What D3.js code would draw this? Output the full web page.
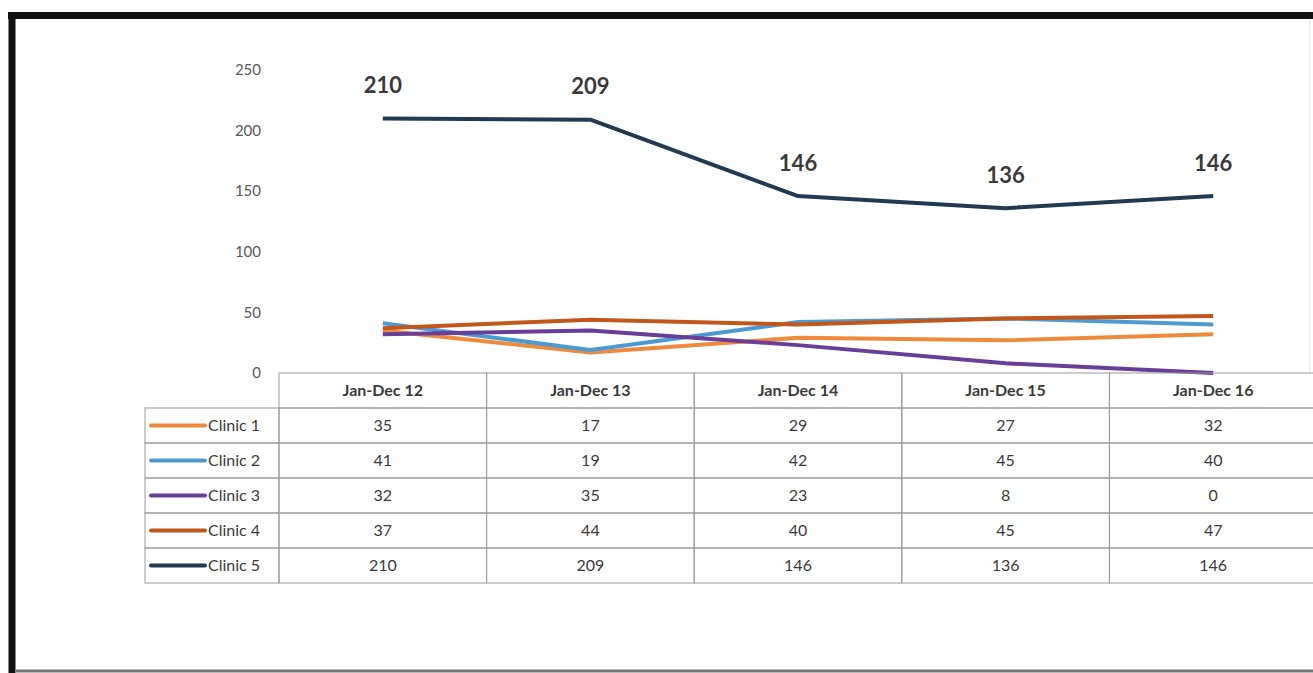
<!DOCTYPE html>
<html lang="en">

<head>
  <meta charset="utf-8">
  <title> Clinic chart </title>
  <script src="https://d3js.org/d3.v7.min.js"></script>
  <style>
    body {
      margin: 0;
      background: #fff;
      font-family: Lato, "Open Sans", sans-serif;
    }
  </style>
</head>

<body>
  <script>
    // chart data
    var categories = ["Jan-Dec 12", "Jan-Dec 13", "Jan-Dec 14", "Jan-Dec 15", "Jan-Dec 16"];
    var clinics = ["Clinic 1", "Clinic 2", "Clinic 3", "Clinic 4", "Clinic 5"];
    var clinic1 = [35, 17, 29, 27, 32];
    var clinic2 = [41, 19, 42, 45, 40];
    var clinic3 = [32, 35, 23, 8, 0];
    var clinic4 = [37, 44, 40, 45, 47];
    var clinic5 = [210, 209, 146, 136, 146];
    var yTicks = [0, 50, 100, 150, 200, 250];
    var colors = ["#ee8a3c", "#4b9bd2", "#6a3d98", "#c1571b", "#1f3a52"];

    var series = [clinic1, clinic2, clinic3, clinic4, clinic5];

    var W = 1313, H = 673;
    var svg = d3.select("body").append("svg")
      .attr("width", W)
      .attr("height", H);

    // frame (scanned border)
    svg.append("rect").attr("x", 0).attr("y", 0).attr("width", W).attr("height", H).attr("fill", "#fff");
    svg.append("line").attr("x1", 8).attr("x2", W).attr("y1", 15.5).attr("y2", 15.5)
      .attr("stroke", "#111").attr("stroke-width", 7);
    svg.append("line").attr("x1", 12).attr("x2", 12).attr("y1", 12).attr("y2", H)
      .attr("stroke", "#111").attr("stroke-width", 7);
    svg.append("line").attr("x1", 16).attr("x2", W).attr("y1", 671).attr("y2", 671)
      .attr("stroke", "#777").attr("stroke-width", 3);
    svg.append("line").attr("x1", 1310).attr("x2", 1310).attr("y1", 20).attr("y2", 373)
      .attr("stroke", "#e4e4e4").attr("stroke-width", 1);

    // scales
    var x = d3.scaleBand().domain(categories).range([279, 1317]);
    var y = d3.scaleLinear().domain([0, 250]).range([373, 70]);

    // y axis labels
    svg.append("g").selectAll("text")
      .data(yTicks)
      .enter().append("text")
      .attr("x", 261)
      .attr("y", function(d) { return y(d); })
      .attr("dy", "0.35em")
      .attr("text-anchor", "end")
      .attr("font-size", 15)
      .attr("fill", "#595959")
      .text(function(d) { return d; });

    // lines
    var line = d3.line()
      .x(function(d, i) { return x(categories[i]) + x.bandwidth() / 2; })
      .y(function(d) { return y(d); });

    svg.append("g").selectAll("path")
      .data(series)
      .enter().append("path")
      .attr("d", line)
      .attr("fill", "none")
      .attr("stroke", function(d, i) { return colors[i]; })
      .attr("stroke-width", 4)
      .attr("stroke-linejoin", "round");

    // data labels for Clinic 5
    svg.append("g").selectAll("text")
      .data(clinic5)
      .enter().append("text")
      .attr("x", function(d, i) { return x(categories[i]) + x.bandwidth() / 2; })
      .attr("y", function(d) { return y(d) - 33; })
      .attr("dy", "0.35em")
      .attr("text-anchor", "middle")
      .attr("font-size", 22)
      .attr("font-weight", "bold")
      .attr("fill", "#3a3a3a")
      .text(function(d) { return d; });

    // data table
    var rowH = 35;
    var tableTop = 373;
    var legLeft = 145;
    var grid = "#9a9a9a";
    var table = svg.append("g");

    // header
    table.selectAll(".hdr")
      .data(categories)
      .enter().append("rect")
      .attr("x", function(d) { return x(d); })
      .attr("y", tableTop)
      .attr("width", x.bandwidth())
      .attr("height", rowH)
      .attr("fill", "none")
      .attr("stroke", grid);

    table.selectAll(".hdrText")
      .data(categories)
      .enter().append("text")
      .attr("x", function(d) { return x(d) + x.bandwidth() / 2; })
      .attr("y", tableTop + rowH / 2)
      .attr("dy", "0.35em")
      .attr("text-anchor", "middle")
      .attr("font-size", 16)
      .attr("font-weight", "bold")
      .attr("fill", "#3a3a3a")
      .text(function(d) { return d; });

    series.forEach(function(vals, r) {
      var ry = tableTop + rowH * (r + 1);
      var row = table.append("g");
      row.append("rect")
        .attr("x", legLeft).attr("y", ry)
        .attr("width", x.range()[0] - legLeft).attr("height", rowH)
        .attr("fill", "none").attr("stroke", grid);
      row.append("line")
        .attr("x1", 151).attr("x2", 205)
        .attr("y1", ry + rowH / 2).attr("y2", ry + rowH / 2)
        .attr("stroke", colors[r]).attr("stroke-width", 4)
        .attr("stroke-linecap", "round");
      row.append("text")
        .attr("x", 208).attr("y", ry + rowH / 2)
        .attr("dy", "0.35em")
        .attr("font-size", 16)
        .attr("fill", "#3a3a3a")
        .text(clinics[r]);
      row.selectAll("rect.cell")
        .data(vals)
        .enter().append("rect")
        .attr("class", "cell")
        .attr("x", function(d, i) { return x(categories[i]); })
        .attr("y", ry)
        .attr("width", x.bandwidth())
        .attr("height", rowH)
        .attr("fill", "none")
        .attr("stroke", grid);
      row.selectAll("text.val")
        .data(vals)
        .enter().append("text")
        .attr("class", "val")
        .attr("x", function(d, i) { return x(categories[i]) + x.bandwidth() / 2; })
        .attr("y", ry + rowH / 2)
        .attr("dy", "0.35em")
        .attr("text-anchor", "middle")
        .attr("font-size", 16)
        .attr("fill", "#3a3a3a")
        .text(function(d) { return d; });
    });
  </script>
</body>

</html>
